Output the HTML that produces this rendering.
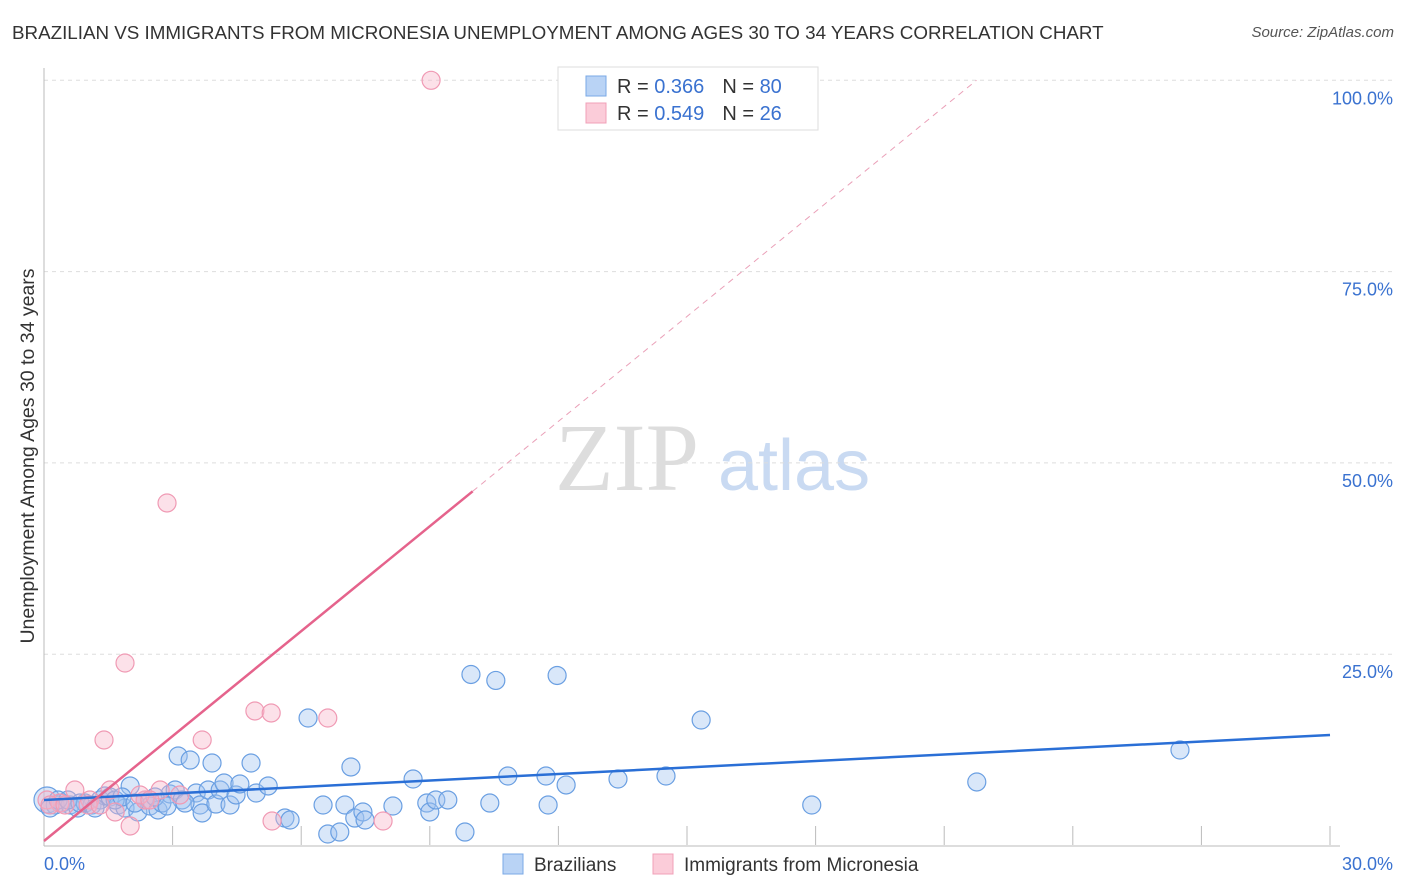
<!DOCTYPE html>
<html><head><meta charset="utf-8"><style>
body{margin:0;background:#fff;font-family:"Liberation Sans",sans-serif;}
#wrap{position:relative;width:1406px;height:892px;overflow:hidden}
.t{position:absolute;white-space:nowrap}
</style></head><body>
<div id="wrap">
<div class="t" style="left:12px;top:22px;font-size:18.8px;color:#333">BRAZILIAN VS IMMIGRANTS FROM MICRONESIA UNEMPLOYMENT AMONG AGES 30 TO 34 YEARS CORRELATION CHART</div>
<div class="t" style="right:12px;top:24px;font-size:15px;color:#555;font-style:italic">Source: ZipAtlas.com</div>
<svg id="svg" width="1406" height="892" style="position:absolute;left:0;top:0">
<text x="555" y="490" font-family="Liberation Serif,serif" font-size="96" fill="#ddd">ZIP</text>
<text x="718" y="490" font-family="Liberation Sans,sans-serif" font-size="72" fill="#c9daf2">atlas</text>
<text transform="translate(34,456) rotate(-90)" text-anchor="middle" font-size="19.5" fill="#333">Unemployment Among Ages 30 to 34 years</text>
<g id="grid"></g><g id="marks"></g>
<g>
<rect x="558" y="67" width="260" height="63" fill="#fff" stroke="#ddd"/>
<rect x="586" y="76" width="20" height="20" fill="#b9d3f5" stroke="#7aa8e6"/>
<rect x="586" y="103" width="20" height="20" fill="#fbccd9" stroke="#f0a0b8"/>
<text x="617" y="93" font-size="20" fill="#333">R = <tspan fill="#3a72d0">0.366</tspan><tspan dx="18">N = </tspan><tspan fill="#3a72d0">80</tspan></text>
<text x="617" y="120" font-size="20" fill="#333">R = <tspan fill="#3a72d0">0.549</tspan><tspan dx="18">N = </tspan><tspan fill="#3a72d0"> 26</tspan></text>
</g>
<g>
<rect x="503" y="854" width="20" height="20" fill="#b9d3f5" stroke="#7aa8e6"/>
<text x="534" y="871" font-size="19" fill="#333">Brazilians</text>
<rect x="653" y="854" width="20" height="20" fill="#fbccd9" stroke="#f0a0b8"/>
<text x="684" y="871" font-size="19" fill="#333">Immigrants from Micronesia</text>
</g>
</svg>
</div>
<script>
const yTicks=[25,50,75,100];
const yTickLabels=["25.0%","50.0%","75.0%","100.0%"];
const xTickLabels=["0.0%","30.0%"];
const blueX=[0.07,0.26,0.42,0.61,0.79,0.96,1.12,1.31,1.42,1.54,1.73,1.89,2.01,2.19,2.36,2.47,2.66,2.75,2.94,3.06,3.13,3.22,3.41,3.55,3.64,3.69,3.83,3.92,4.01,4.11,4.2,4.34,4.48,4.57,4.83,4.95,5.23,5.62,5.74,6.16,6.51,6.62,6.9,7.02,7.16,7.25,7.44,7.49,8.14,8.61,8.93,9.0,9.14,9.42,9.82,9.96,10.4,10.54,10.82,11.71,11.76,11.97,12.18,13.39,14.51,15.33,17.91,21.76,26.5,0.14,0.33,0.56,0.84,1.19,1.66,1.82,2.12,2.59,2.87,3.29];
const blueY=[5.95,5.29,5.55,5.29,4.9,5.55,5.29,5.95,6.47,6.34,5.29,4.9,7.78,4.38,5.95,5.16,4.64,5.55,6.73,7.25,11.7,5.95,11.17,6.86,5.29,4.25,7.25,10.78,5.42,7.25,8.17,5.29,6.6,8.04,10.78,6.86,7.78,3.59,3.33,16.66,5.29,1.5,1.76,5.29,10.26,3.59,4.38,3.33,5.16,8.69,5.55,4.38,5.95,5.95,1.76,22.35,5.55,21.57,9.08,9.08,5.29,22.22,7.91,8.69,9.08,16.4,5.29,8.3,12.48,4.9,5.95,5.95,5.55,4.9,5.95,6.34,5.55,6.34,5.16,5.55];
const pinkX=[0.07,0.37,0.72,1.07,1.4,1.66,1.89,2.01,2.36,2.71,2.87,3.17,3.69,4.92,5.3,5.32,6.62,7.91,9.03,0.14,1.03,2.24,2.47,1.54,0.49,1.31];
const pinkY=[5.95,5.55,7.25,5.95,13.79,4.38,23.85,2.55,5.95,7.25,44.76,6.6,13.79,17.58,17.32,3.2,16.66,3.2,100,5.29,5.29,6.6,5.95,7.25,5.29,5.29];
const blueTrend=[5.95,0.283];
const pinkTrend=[0.59,4.57];
const X=v=>44+v*42.867, Y=v=>845.5-v*7.652;
const NS="http://www.w3.org/2000/svg";
const grid=document.getElementById('grid'),marks=document.getElementById('marks');
function mk(tag,attrs,parent){const e=document.createElementNS(NS,tag);for(const k in attrs)e.setAttribute(k,attrs[k]);parent.appendChild(e);return e;}
yTicks.forEach((t,i)=>{
 const l=mk('line',{x1:44,x2:1395,y1:Y(t),y2:Y(t),stroke:'#ddd','stroke-dasharray':'4,4'},grid);
 
 
 const tx=mk('text',{x:1393,y:Y(t)+24,'text-anchor':'end','font-size':18,fill:'#3a72d0'},grid);
 tx.textContent=yTickLabels[i];
 
 
});
for(let i=1;i<=10;i++){const l=mk('line',{x1:X(i*3),x2:X(i*3),y1:826,y2:845,stroke:'#bbb'},grid);
 
 }
let a=mk('line',{x1:44,x2:44,y1:68,y2:846,stroke:'#bbb'},grid);


a=mk('line',{x1:44,x2:1340,y1:846,y2:846,stroke:'#bbb'},grid);


[[0,44,'start'],[30,1393,'end']].forEach((d,i)=>{const t=mk('text',{x:d[1],y:870,'text-anchor':d[2],'font-size':18,fill:'#3a72d0'},grid);t.textContent=xTickLabels[i];
 
 });
blueX.forEach((x,i)=>{const c=mk('circle',{cx:X(x),cy:Y(blueY[i]),r:i==0?13:9,fill:'rgba(160,196,240,0.4)',stroke:'#6a9fe2','stroke-width':1.2},marks);
 
 });
pinkX.forEach((x,i)=>{const c=mk('circle',{cx:X(x),cy:Y(pinkY[i]),r:9,fill:'rgba(247,180,200,0.4)',stroke:'#f09ab4','stroke-width':1.2},marks);
 
 });
let tl=mk('line',{x1:X(0),y1:Y(blueTrend[0]),x2:X(30),y2:Y(blueTrend[0]+30*blueTrend[1]),stroke:'#2a6fd6','stroke-width':2.5},marks);


const xs=10, xe=(100-pinkTrend[0])/pinkTrend[1];
tl=mk('line',{x1:X(0),y1:Y(pinkTrend[0]),x2:X(xs),y2:Y(pinkTrend[0]+xs*pinkTrend[1]),stroke:'#e5638c','stroke-width':2.5},marks);


tl=mk('line',{x1:X(xs),y1:Y(pinkTrend[0]+xs*pinkTrend[1]),x2:X(xe),y2:Y(100),stroke:'#eaa0b8','stroke-width':1,'stroke-dasharray':'6,5'},marks);


</script>
</body></html>
